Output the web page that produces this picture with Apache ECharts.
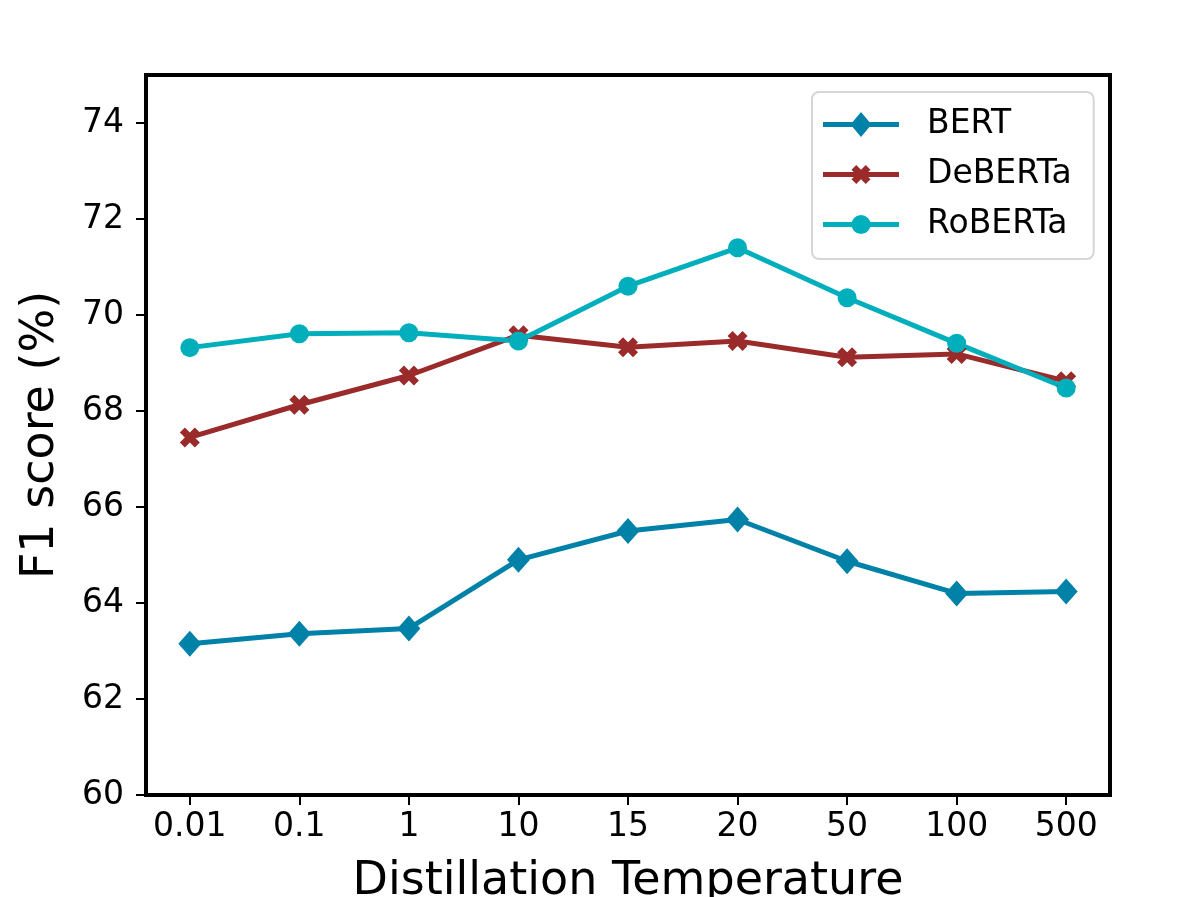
<!DOCTYPE html>
<html>
<head>
<meta charset="utf-8">
<script src="https://cdn.jsdelivr.net/npm/echarts@6/dist/echarts.min.js"></script>
<style>
html,body{margin:0;padding:0;background:#fff;}
#chart{width:1192px;height:897px;}
</style>
</head>
<body>
<div id="chart"></div>
<script>
var categories = ['0.01', '0.1', '1', '10', '15', '20', '50', '100', '500'];
var bert = [63.15, 63.36, 63.47, 64.90, 65.50, 65.74, 64.87, 64.20, 64.24];
var deberta = [67.45, 68.13, 68.74, 69.58, 69.33, 69.46, 69.12, 69.19, 68.62];
var roberta = [69.32, 69.61, 69.63, 69.46, 70.60, 71.40, 70.36, 69.41, 68.48];
var yTicks = [60, 62, 64, 66, 68, 70, 72, 74];

var FONT = 'DejaVu Sans';
var xIdx = categories.map(function (c, i) { return i; });
function pairs(arr) { return arr.map(function (v, i) { return [i, v]; }); }

var X_PATH = 'path://M2.5,0L5,2.5L7.5,0L10,2.5L7.5,5L10,7.5L7.5,10L5,7.5L2.5,10L0,7.5L2.5,5L0,2.5Z';

// legend icons (line + marker), drawn in a 76x26 box; tiny corner marks fix the bbox
var CORNERS = 'M0,0.01L0.01,0.01L0.01,0Z M76,26L75.99,26L76,25.99Z';
var iconBert = 'path://M0,10.5L29.6,10.5L38,0.5L46.4,10.5L76,10.5L76,15.5L46.4,15.5L38,25.5L29.6,15.5L0,15.5Z' + CORNERS;
var iconDeb = 'path://M0,10.5L76,10.5L76,15.5L0,15.5Z' +
  'M33.25,3.5L38,8.25L42.75,3.5L47.5,8.25L42.75,13L47.5,17.75L42.75,22.5L38,17.75L33.25,22.5L28.5,17.75L33.25,13L28.5,8.25Z' + CORNERS;
var iconRob = 'path://M0,10.5L76,10.5L76,15.5L0,15.5Z' +
  'M28.5,13A9.5,9.5 0 1 1 47.5,13A9.5,9.5 0 1 1 28.5,13Z' + CORNERS;

var chart = echarts.init(document.getElementById('chart'), null, {renderer: 'canvas'});
chart.setOption({
  backgroundColor: '#ffffff',
  animation: false,
  grid: {
    left: 146, right: 82, top: 75, bottom: 102,
    outerBoundsMode: 'none', containLabel: false,
    show: true, borderColor: '#000000', borderWidth: 4, backgroundColor: 'transparent'
  },
  xAxis: {
    type: 'value',
    min: -0.4, max: 8.4,
    splitLine: {show: false},
    axisLine: {show: false, onZero: false},
    axisTick: {show: true, customValues: xIdx, length: 10, inside: false, lineStyle: {color: '#000', width: 2}},
    axisLabel: {
      customValues: xIdx, margin: 16,
      fontFamily: FONT, fontSize: 33, color: '#000',
      formatter: function (v) { return categories[Math.round(v)]; }
    },
    name: 'Distillation Temperature',
    nameLocation: 'middle', nameGap: 64,
    nameTextStyle: {fontFamily: FONT, fontSize: 46, color: '#000'}
  },
  yAxis: {
    type: 'value',
    min: 60, max: 75,
    splitLine: {show: false},
    axisLine: {show: false, onZero: false},
    axisTick: {show: true, customValues: yTicks, length: 10, inside: false, lineStyle: {color: '#000', width: 2}},
    axisLabel: {
      customValues: yTicks, margin: 22,
      fontFamily: FONT, fontSize: 33, color: '#000'
    },
    name: 'F1 score (%)',
    nameLocation: 'middle', nameGap: 82,
    nameTextStyle: {fontFamily: FONT, fontSize: 46, color: '#000'}
  },
  legend: {
    orient: 'vertical',
    left: 812, top: 92,
    itemWidth: 76, itemHeight: 26, itemGap: 17,
    padding: [16, 22, 18, 11],
    backgroundColor: '#ffffff',
    borderColor: '#d6d6d6', borderWidth: 2, borderRadius: 7,
    itemStyle: {borderWidth: 0},
    textStyle: {fontFamily: FONT, fontSize: 33, color: '#000', lineHeight: 26, padding: [0, 0, 0, 23]},
    data: [
      {name: 'BERT', icon: iconBert},
      {name: 'DeBERTa', icon: iconDeb},
      {name: 'RoBERTa', icon: iconRob}
    ]
  },
  series: [
    {
      name: 'BERT', type: 'line', data: pairs(bert),
      symbol: 'diamond', symbolSize: [23, 26],
      lineStyle: {color: '#0081A7', width: 5},
      itemStyle: {color: '#0081A7', borderWidth: 0}
    },
    {
      name: 'DeBERTa', type: 'line', data: pairs(deberta),
      symbol: X_PATH, symbolSize: 20,
      lineStyle: {color: '#9B2A2A', width: 5},
      itemStyle: {color: '#9B2A2A', borderWidth: 0}
    },
    {
      name: 'RoBERTa', type: 'line', data: pairs(roberta),
      symbol: 'circle', symbolSize: 19,
      lineStyle: {color: '#00AFBB', width: 5},
      itemStyle: {color: '#00AFBB', borderWidth: 0}
    }
  ]
});
</script>
</body>
</html>
